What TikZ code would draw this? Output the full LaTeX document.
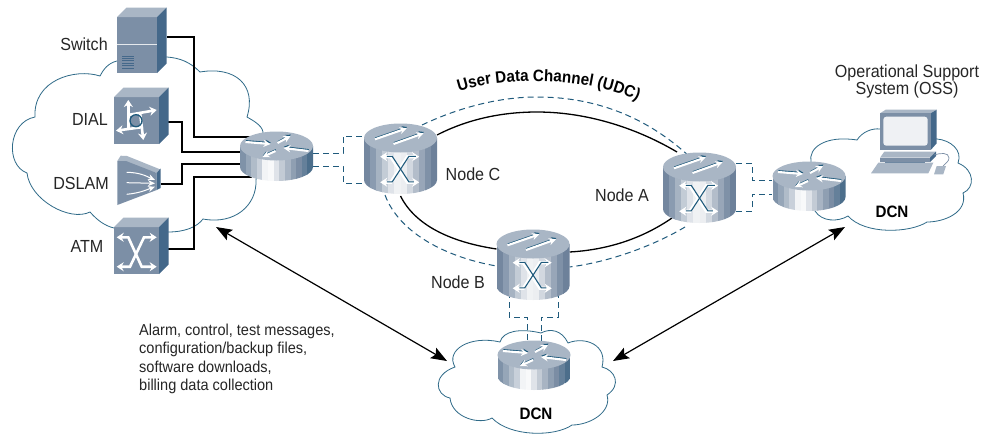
\documentclass[tikz,border=0pt]{standalone}
\usepackage{fontspec}
\setmainfont{Liberation Sans}[FakeStretch=0.92]
\usetikzlibrary{arrows.meta,decorations.text,calc}
\definecolor{cloudline}{HTML}{2F6A88}
\definecolor{navy}{HTML}{1F5A7C}
\definecolor{devfront}{HTML}{7C8FA6}
\definecolor{devtop}{HTML}{A9B6C5}
\definecolor{devside}{HTML}{44688A}
\newcommand\lblfont{\fontsize{17.5}{18}\selectfont}
\newcommand\msgfont{\fontsize{15.8}{18.2}\selectfont}
\newcommand\udcfont{\fontsize{16.5}{16}\selectfont\bfseries}
\newcommand\bandsR{7F92A8,96A6B8,B0BCC9,C8D0DA,F2F4F6,F8F9FA,DFE3E9,C3CBD5,A8B4C3,8F9FB2,7B8DA4,65809A,4C6E8B}
\newcommand\bandsN{74879F,8A9BB0,A6B3C2,C3CCD6,DFE3E9,F0F2F4,ECEEF1,D2D8E0,B3BDCA,98A6B8,7F91A7,6D819A}
% drum body: #1 band list, #2 height
\newcommand\drum[2]{%
  \begin{scope}
    \clip (-36.5,0) -- (-36.5,#2) .. controls (-36.5,#2+7.7) and (-20.2,#2+14) .. (0,#2+14)
       .. controls (20.2,#2+14) and (36.5,#2+7.7) .. (36.5,#2) -- (36.5,0) -- cycle;
    \edef\bandlist{#1}
    \foreach \c [count=\i] in \bandlist {
      \definecolor{bandc}{HTML}{\c}
      \pgfmathsetmacro\xa{-36.5+(\i-1)*\bandw}
      \fill[bandc] (\xa,-1) rectangle ++(\bandw+0.5,#2+16);
    }
  \end{scope}
  \fill[devtop] (0,0) ellipse [x radius=36.5,y radius=14.5];
}
\newcommand\whitearrow[2]{%
  \draw[navy,line width=1.2,-{Stealth[length=5pt,width=5pt]}] ($(#1)+(0.3,-1.3)$) -- ($(#2)+(0.3,-1.3)$);
  \draw[white,line width=2.1,-{Stealth[length=7pt,width=7pt]}] (#1) -- (#2);
}
\newcommand\routericon[3]{% cx, cy top, name unused
  \begin{scope}[shift={(#1,#2)}]
    \def\bandw{5.615}
    \drum{\bandsR}{21}
    \whitearrow{-31,-4}{-6,-2}
    \whitearrow{1,-3}{14,-10}
    \whitearrow{32,5}{7,2}
    \whitearrow{-1,5}{-14,11}
  \end{scope}
}
\newcommand\xlines[1]{%
  \draw[white,line width=3.2,{Stealth[length=7pt,width=9pt]}-{Stealth[length=7pt,width=9pt]}] (-20.3,18.7) -- (-9.7,18.7) -- (7,44.3) -- (18.7,44.3);
  \draw[white,line width=3.2,{Stealth[length=7pt,width=9pt]}-{Stealth[length=7pt,width=9pt]}] (18.7,18.7) -- (7,18.7) -- (-9.7,44.3) -- (-20.3,44.3);
  \draw[navy,line width=1.1,#1,shift={(1.4,-0.4)}] (-15,18.7) -- (-9.7,18.7) -- (7,44.3) -- (12,44.3);
  \draw[navy,line width=1.1,#1,shift={(1.4,-0.4)}] (14,18.7) -- (7,18.7) -- (-9.7,44.3) -- (-15,44.3);
}
\newcommand\nodeicon[2]{% cx, cy top
  \begin{scope}[shift={(#1,#2)}]
    \def\bandw{6.083}
    \drum{\bandsN}{42}
    \whitearrow{-25.5,1.3}{6.2,-9.7}
    \whitearrow{-7,6}{23,-4.7}
    \xlines{}
  \end{scope}
}
\newcommand\cube[4]{% x0,y0,x1,y1 front; depth 9
  \fill[devfront] (#1,#2) rectangle (#3,#4);
  \fill[devtop] (#1,#2) -- ++(9.5,-9.5) -- (#3+9.5,#2-9.5) -- (#3,#2) -- cycle;
  \fill[devside] (#3,#2) -- ++(9.5,-9.5) -- (#3+9.5,#4-9.5) -- (#3,#4) -- cycle;
}
\tikzset{
  x=1pt,y=-1pt,
  cloudshape/.style={draw=cloudline,line width=0.8,fill=white},
  trunk/.style={black,line width=2.7},
  dashlink/.style={navy,line width=1,dash pattern=on 6pt off 4pt},
  ring/.style={black,line width=1.3},
  span/.style={black,line width=1.2,{Stealth[length=16pt,width=12pt,inset=3pt]}-{Stealth[length=16pt,width=12pt,inset=3pt]}},
  devbox/.style={inner sep=0pt,outer sep=0pt,minimum width=#1},
  lbl/.style={font=\lblfont,text=black!85,inner sep=0pt},
  msg/.style={font=\msgfont,text=black!85,inner sep=0pt},
  dcn/.style={font=\fontsize{16.5}{18}\selectfont\bfseries,inner sep=0pt},
  whiteline/.style={white,line width=2.6,-{Stealth[length=7pt,width=9pt]}},
}
\begin{document}
\begin{tikzpicture}
\useasboundingbox (0,0) rectangle (984,434);
\fill[white] (0,0) rectangle (984,434);
% invisible device frames
\node[devbox=50pt,minimum height=66pt] (switch) at (142,40) {};
\node[devbox=54pt,minimum height=56pt] (dial) at (141,116) {};
\node[devbox=44pt,minimum height=50pt] (dslam) at (139,180) {};
\node[devbox=54pt,minimum height=56pt] (atm) at (141,246) {};
\node[devbox=73pt,minimum height=48pt] (rL) at (276.5,157) {};
\node[devbox=73pt,minimum height=73pt] (nodeC) at (400.5,159.5) {};
\node[devbox=73pt,minimum height=72pt] (nodeA) at (699.5,188) {};
\node[devbox=73pt,minimum height=71pt] (nodeB) at (533,264.5) {};
\node[devbox=74pt,minimum height=49pt] (rR) at (809,186.5) {};
\node[devbox=74pt,minimum height=48pt] (rB) at (534,365) {};
\coordinate (arrLa) at (216,227);
\coordinate (arrLb) at (447,361);
\coordinate (arrRa) at (613,361);
\coordinate (arrRb) at (845,227);
% clouds
\path[cloudshape] (117,61) .. controls (108,63) and (103,70) .. (100,76)
  .. controls (75,68) and (33,80) .. (35,117)
  .. controls (8,122) and (5,165) .. (27,173)
  .. controls (30,200) and (70,222) .. (90,212)
  .. controls (97,220) and (105,226) .. (114,228)
  -- (168,232)
  .. controls (185,232) and (197,227) .. (203,219)
  .. controls (235,225) and (257,205) .. (256,180)
  -- (263,132)
  .. controls (262,125) and (252,120) .. (247,117)
  .. controls (257,85) and (235,66) .. (200,72)
  .. controls (190,62) and (180,58) .. (167,57)
  -- cycle;
\path[cloudshape] (811,162) .. controls (808,148) and (825,135) .. (857,140)
  .. controls (862,132) and (872,128) .. (880,129)
  -- (937,139)
  .. controls (950,140) and (963,150) .. (958,163)
  .. controls (975,170) and (975,188) .. (963,193)
  .. controls (968,212) and (945,222) .. (927,222)
  .. controls (910,233) and (865,235) .. (848,216)
  .. controls (838,222) and (822,222) .. (815,211)
  -- cycle;
\path[cloudshape] (500,342) .. controls (503,331) and (520,328) .. (541,333)
  .. controls (550,328) and (562,330) .. (568,343)
  .. controls (585,336) and (608,345) .. (602,367)
  .. controls (615,370) and (622,385) .. (607,395)
  .. controls (612,412) and (590,425) .. (572,425)
  .. controls (555,437) and (510,437) .. (492,418)
  .. controls (480,425) and (452,418) .. (450,398)
  .. controls (435,395) and (432,375) .. (455,367)
  .. controls (445,350) and (470,335) .. (500,342) -- cycle;
% long arrows
\draw[span] (arrLa) -- (arrLb);
\draw[span] (arrRa) -- (arrRb);
% trunks
\draw[trunk] ([yshift=3pt]switch.east) -- ++(27,0) |- ([xshift=12pt,yshift=20pt]rL.west);
\draw[trunk] ([yshift=-6pt]dial.east) -- ++(14,0) |- ([xshift=4pt,yshift=5pt]rL.west);
\draw[trunk] ([yshift=-4pt]dslam.east) -- ++(21,0) |- ([xshift=4pt,yshift=-7pt]rL.west);
\draw[trunk] ([yshift=-3pt]atm.east) -- ++(26,0) |- ([xshift=12pt,yshift=-20pt]rL.west);
% dashed links
\draw[dashlink] ([yshift=4pt]rL.east) -- ++(30,0) |- ([yshift=23.5pt]nodeC.west);
\draw[dashlink] ([yshift=-9pt]rL.east) -- ++(30,0) |- ([yshift=-23.5pt]nodeC.west);
\draw[dashlink] ([yshift=25pt]nodeA.east) -- ++(16,0) |- ([yshift=6.5pt]rR.west);
\draw[dashlink] ([yshift=-23pt]nodeA.east) -- ++(16,0) |- ([yshift=-7.5pt]rR.west);
\draw[dashlink] ([xshift=-24pt,yshift=8pt]nodeB.south) -- ++(0,25) -| ([xshift=-7pt,yshift=-4pt]rB.north);
\draw[dashlink] ([xshift=25pt,yshift=8pt]nodeB.south) -- ++(0,25) -| ([xshift=7pt,yshift=-4pt]rB.north);
% ring
\draw[ring] ([yshift=-12pt]nodeC.north east) .. controls (470,118) and (505,112) .. (537,112)
  .. controls (590,112) and (640,130) .. ([xshift=14pt]nodeA.north west);
\draw[ring] ([xshift=9pt,yshift=6pt]nodeA.south west) .. controls (640,240) and (605,250) .. ([yshift=12.5pt]nodeB.east);
\draw[ring] ([yshift=15.5pt]nodeB.west) .. controls (450,242) and (415,225) .. (nodeC.south);
\draw[dashlink] ([xshift=21.5pt,yshift=-2pt]nodeC.north) .. controls (460,107) and (500,97) .. (537,97)
  .. controls (600,97) and (650,120) .. ([xshift=-9.5pt,yshift=-5pt]nodeA.north);
\draw[dashlink] ([xshift=-14.5pt,yshift=-3pt]nodeA.south) .. controls (655,245) and (610,262) .. ([yshift=-2.5pt]nodeB.east);
\draw[dashlink] ([xshift=-15.5pt,yshift=1pt]nodeC.south) .. controls (400,235) and (450,258) .. ([yshift=-1.5pt]nodeB.west);
% UDC label
\path[decorate,decoration={text along path,text align=center,
  text={|\udcfont|User Data Channel (UDC)}}]
  (454,93) .. controls (500,76) and (590,76) .. (642,103);
% Switch
\cube{117}{17}{157}{73}
\draw[white!80!devfront,line width=0.8] (117,44) -- (157,44);
\foreach \gy in {56,58.4,...,68}{\draw[devside,line width=0.8] (122,\gy) -- (134,\gy);}
% DIAL
\cube{114}{97}{159}{144}
\draw[whiteline] (128.3,130) -- (128.3,100);
\draw[whiteline] (143,127) -- (116,130.7);
\draw[whiteline] (140,112) -- (143.3,140);
\draw[whiteline] (128,115) -- (156.7,110);
\draw[navy,line width=1.3] (136,120.7) circle [radius=6];
% DSLAM
\fill[devtop] (117.3,161) -- (120.7,155.7) -- (127,156) -- (160,169.3) -- (156.7,173) -- cycle;
\fill[devfront] (117.3,161) -- (126,161) -- (156.7,173) -- (156.7,190) -- (117.3,205) -- cycle;
\fill[devside] (156.7,173) -- (160.5,168.5) -- (160.5,188) -- (156.7,190) -- cycle;
\draw[white,line width=1,-{Stealth[length=7pt,width=6pt]}] (126.7,172.3) .. controls (140,172.5) and (146,176) .. (155,180);
\draw[white,line width=1,-{Stealth[length=7pt,width=6pt]}] (126.7,182.7) -- (155,183.3);
\draw[white,line width=1,-{Stealth[length=7pt,width=6pt]}] (126.7,194.3) .. controls (140,193) and (146,190) .. (155,186.7);
% ATM
\cube{114}{227}{159}{274}
\draw[white,line width=2.6,{Stealth[length=7pt,width=9pt]}-{Stealth[length=7pt,width=9pt]}] (116.7,237.3) -- (128.3,237.3) -- (141.7,266.7) -- (156.7,266.7);
\draw[white,line width=2.6,{Stealth[length=7pt,width=9pt]}-{Stealth[length=7pt,width=9pt]}] (156.7,237.3) -- (144,237.3) -- (130,266.7) -- (116.7,266.7);
% routers and nodes
\routericon{276.5}{146}{}
\routericon{809}{176}{}
\routericon{534}{355}{}
\nodeicon{400.5}{138}
\nodeicon{699.5}{167}
\nodeicon{533}{244}
% monitor
\fill[devtop] (880,113.3) -- (885.7,109.7) -- (936.7,109.7) -- (930.7,113.3) -- cycle;
\fill[devside] (930.7,113.3) -- (936.7,109.7) -- (936.7,143.3) -- (930.7,150) -- cycle;
\fill[devfront] (880,113.3) rectangle (930.7,150);
\fill[white!88!devfront,rounded corners=3pt] (883.3,116.7) rectangle (927.7,145.7);
\fill[devtop] (880,157.7) -- (884.3,151.7) -- (936,151.7) -- (930,157.7) -- cycle;
\fill[devfront] (880,157.7) rectangle (930,162);
\fill[devside] (930,157.7) -- (936,151.7) -- (936,156) -- (930,162) -- cycle;
\fill[devside!80!devfront] (885,162) rectangle (925,166);
\fill[devtop] (871,173.3) -- (878.3,162.7) -- (933.3,162.7) -- (928.3,173.3) -- cycle;
\draw[devfront,line width=0.7] (934,155) .. controls (940,153) and (949,152) .. (949,158) .. controls (949,162) and (945,163) .. (943,166);
\fill[devtop] (934,174.3) -- (936.7,166) -- (946,166) -- (943.3,174.3) -- cycle;
% labels
\node[lbl] (tSwitch) at (84,44) {Switch};
\node[lbl] (tDial) at (90,119) {DIAL};
\node[lbl] (tDslam) at (81,183) {DSLAM};
\node[lbl] (tAtm) at (87,246) {ATM};
\node[lbl] (tC) at (473,174) {Node C};
\node[lbl] (tA) at (622,195) {Node A};
\node[lbl] (tB) at (458,282) {Node B};
\node[lbl,align=center] (tOss) at (907,81.5) {Operational Support\\[-0.5pt]System (OSS)};
\node[dcn] (tDcnR) at (892,212) {DCN};
\node[dcn] (tDcnB) at (536,414) {DCN};
\node[msg,align=left,anchor=north west] (tMsg) at (139,324) {Alarm, control, test messages,\\configuration/backup files,\\software downloads,\\billing data collection};
\end{tikzpicture}
\end{document}
